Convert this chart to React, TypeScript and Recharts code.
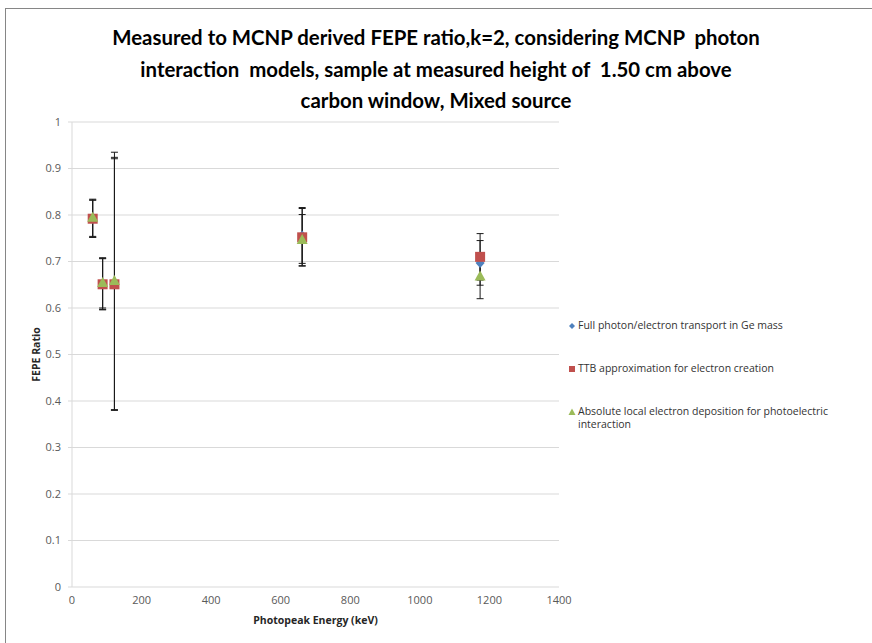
import React from "react";
import {
  ScatterChart,
  Scatter,
  XAxis,
  YAxis,
  CartesianGrid,
  ErrorBar,
} from "recharts";

// photopeak energies of the mixed source lines (keV)
const energies = [59.5, 88, 122, 661.7, 1173.2];

// FEPE ratio per interaction model, with k=2 uncertainties
const fullTransport = [0.792, 0.652, 0.652, 0.756, 0.697];
const fullTransportErr = [0.04, 0.055, 0.272, 0.06, 0.048];
const ttbApprox = [0.792, 0.651, 0.651, 0.752, 0.71];
const ttbApproxErr = [0.04, 0.055, 0.27, 0.062, 0.05];
const localDeposition = [0.794, 0.654, 0.658, 0.746, 0.668];
const localDepositionErr = [0.04, 0.054, 0.277, 0.055, 0.048];

const seriesNames = [
  "Full photon/electron transport in Ge mass",
  "TTB approximation for electron creation",
  "Absolute local electron deposition for photoelectric interaction",
];

const titleLines = [
  "Measured to MCNP derived FEPE ratio,k=2, considering MCNP  photon",
  "interaction  models, sample at measured height of  1.50 cm above",
  "carbon window, Mixed source",
];

const xTicks = [0, 200, 400, 600, 800, 1000, 1200, 1400];
const yTicks = [0, 0.1, 0.2, 0.3, 0.4, 0.5, 0.6, 0.7, 0.8, 0.9, 1];

const BLUE = "#4f81bd";
const RED = "#c0504d";
const GREEN = "#9bbb59";

const toPoints = (ys: number[], errs: number[]) =>
  energies.map((x, i) => ({ x, y: ys[i], err: errs[i] }));

const Diamond = ({ cx, cy }: any) => (
  <polygon
    points={`${cx},${cy - 5} ${cx + 4.5},${cy} ${cx},${cy + 5} ${cx - 4.5},${cy}`}
    fill={BLUE}
  />
);
const Square = ({ cx, cy }: any) => (
  <rect x={cx - 5} y={cy - 5} width={10} height={10} fill={RED} />
);
const Triangle = ({ cx, cy }: any) => (
  <polygon
    points={`${cx},${cy - 6} ${cx + 5.5},${cy + 4} ${cx - 5.5},${cy + 4}`}
    fill={GREEN}
  />
);

const legendMarks = [
  <polygon key="d" points="4,1 7,4 4,7 1,4" fill={BLUE} />,
  <rect key="s" x={1} y={1} width={6} height={6} fill={RED} />,
  <polygon key="t" points="4,0.5 7.5,7 0.5,7" fill={GREEN} />,
];

const LegendBox = () => (
  <div
    style={{
      position: "absolute",
      left: 568,
      top: 319,
      width: 305,
      display: "flex",
      flexDirection: "column",
      gap: 30,
    }}
  >
    {seriesNames.map((name, i) => (
      <div key={name} style={{ display: "flex", alignItems: "flex-start" }}>
        <svg width={8} height={8} style={{ marginTop: 3, marginRight: 2, flex: "none" }}>
          {legendMarks[i]}
        </svg>
        <span style={{ fontSize: 10.5, lineHeight: "13px", color: "#333" }}>{name}</span>
      </div>
    ))}
  </div>
);

const tickStyle = { fontSize: 11, fill: "#595959", fontFamily: '"Open Sans", sans-serif' };
const axisTitle = { fontSize: 10.5, fontWeight: 700, fill: "#262626", fontFamily: '"Open Sans", sans-serif' };

export default function App() {
  return (
    <div
      style={{
        position: "absolute",
        left: 0,
        top: 0,
        width: 872,
        height: 643,
        overflow: "hidden",
        background: "#fff",
        fontFamily: '"Open Sans", sans-serif',
      }}
    >
      <ScatterChart
        width={872}
        height={643}
        margin={{ top: 122, right: 313, bottom: 0, left: 0 }}
      >
        <CartesianGrid vertical={false} stroke="#d9d9d9" />
        <XAxis
          type="number"
          dataKey="x"
          domain={[0, 1400]}
          ticks={xTicks}
          height={56}
          axisLine={false}
          tickLine={false}
          tickSize={0}
          tickMargin={9}
          tick={tickStyle}
          label={{ value: "Photopeak Energy (keV)", position: "insideBottom", offset: 19, style: axisTitle }}
        />
        <YAxis
          type="number"
          dataKey="y"
          domain={[0, 1]}
          ticks={yTicks}
          width={72}
          axisLine={{ stroke: "#d9d9d9" }}
          tickLine={{ stroke: "#d9d9d9" }}
          tickSize={4}
          tickMargin={7}
          tick={tickStyle}
          tickFormatter={(v: number) => String(v)}
          label={{ value: "FEPE Ratio", angle: -90, position: "center", style: axisTitle }}
        />
        <Scatter
          name={seriesNames[0]}
          data={toPoints(fullTransport, fullTransportErr)}
          shape={Diamond}
          isAnimationActive={false}
        >
          <ErrorBar dataKey="err" direction="y" width={3.5} stroke="#1a1a1a" strokeWidth={1} />
        </Scatter>
        <Scatter
          name={seriesNames[1]}
          data={toPoints(ttbApprox, ttbApproxErr)}
          shape={Square}
          isAnimationActive={false}
        >
          <ErrorBar dataKey="err" direction="y" width={3.5} stroke="#1a1a1a" strokeWidth={1} />
        </Scatter>
        <Scatter
          name={seriesNames[2]}
          data={toPoints(localDeposition, localDepositionErr)}
          shape={Triangle}
          isAnimationActive={false}
        >
          <ErrorBar dataKey="err" direction="y" width={3.5} stroke="#1a1a1a" strokeWidth={1} />
        </Scatter>
      </ScatterChart>

      <LegendBox />

      {/* chart frame */}
      <div
        style={{
          position: "absolute",
          left: 5,
          top: 8,
          width: 900,
          height: 700,
          border: "1px solid #868686",
          pointerEvents: "none",
        }}
      />

      {titleLines.map((line, i) => (
        <div
          key={i}
          style={{
            position: "absolute",
            left: 0,
            top: 22 + i * 31.5,
            width: 872,
            textAlign: "center",
            whiteSpace: "pre",
            fontFamily: "Lato, sans-serif",
            fontWeight: 700,
            fontSize: 20.4,
            lineHeight: "31px",
            color: "#000",
          }}
        >
          {line}
        </div>
      ))}
    </div>
  );
}
